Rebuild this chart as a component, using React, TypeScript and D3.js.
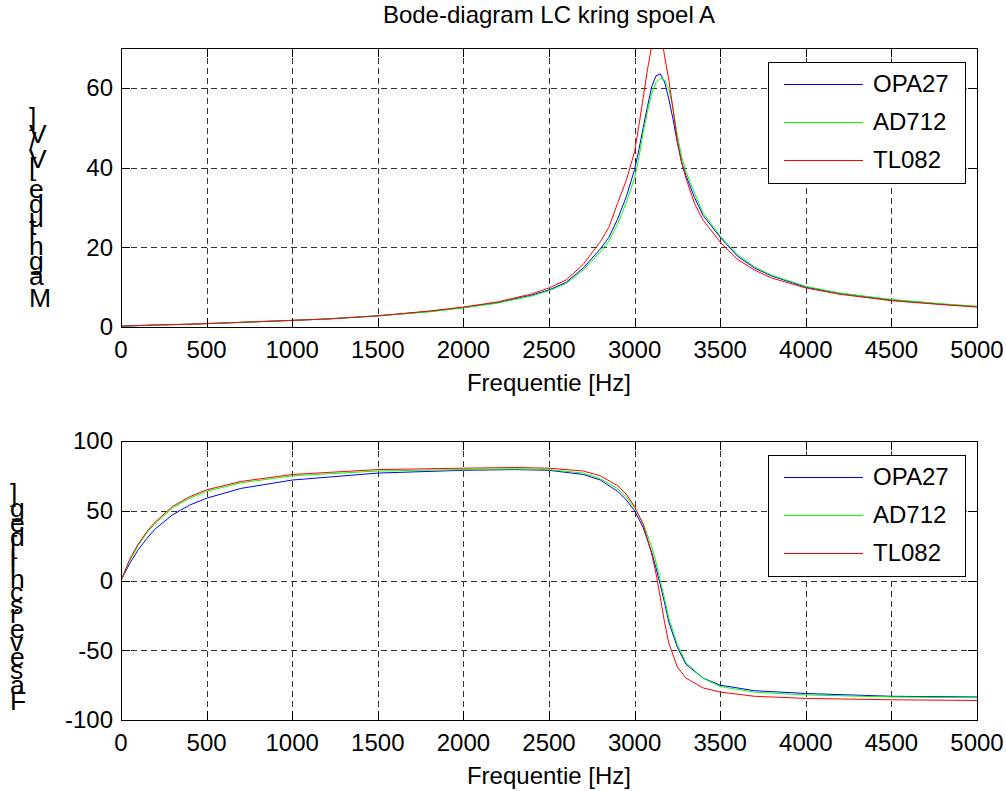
import * as d3 from 'd3';

// Amplitude (top panel)
const magFreq = [0, 200, 400, 600, 900, 1200, 1500, 1800, 2000, 2200, 2400, 2500, 2600, 2700, 2800, 2850, 2900, 2950, 3000, 3025, 3050, 3075, 3100, 3125, 3150, 3175, 3200, 3225, 3250, 3275, 3300, 3350, 3400, 3500, 3600, 3700, 3800, 4000, 4200, 4500, 4800, 5000];
const magOPA27 = [0.2, 0.5, 0.7, 1.0, 1.5, 2.0, 2.8, 3.9, 4.9, 6.1, 8.0, 9.3, 11.2, 14.8, 19.6, 22.5, 27, 32.5, 39.5, 44.5, 50, 55.3, 60.3, 63, 63.5, 61.5, 57.2, 52, 46.2, 41.2, 38, 32.5, 28, 22.5, 17.8, 14.8, 12.8, 10.0, 8.4, 6.8, 5.7, 5.1];
const magAD712 = [0.2, 0.5, 0.7, 1.0, 1.5, 2.0, 2.8, 3.8, 4.8, 6.0, 7.8, 9.1, 10.9, 14.3, 18.9, 21.6, 25.8, 31, 37.5, 42.5, 48.8, 54, 58.6, 61.3, 62.4, 62, 59.8, 54.6, 48, 42.7, 39, 33.6, 28.7, 22.8, 18.2, 15.1, 13, 10.2, 8.5, 6.9, 5.8, 5.2];
const magTL082 = [0.2, 0.5, 0.7, 1.0, 1.5, 2.0, 2.8, 4.0, 5.0, 6.3, 8.3, 9.8, 11.8, 15.7, 21.4, 25, 31, 36.6, 44, 50.5, 57.5, 64.5, 70.5, 76, 75, 68, 62, 54.5, 46.6, 41.3, 37.3, 31, 26.8, 21.3, 17.0, 14.3, 12.3, 9.8, 8.2, 6.6, 5.6, 5.0];

// Phase (bottom panel)
const phaseFreq = [0, 50, 100, 150, 200, 300, 400, 500, 700, 1000, 1500, 2000, 2300, 2500, 2700, 2800, 2900, 2950, 3000, 3050, 3100, 3125, 3150, 3175, 3200, 3250, 3300, 3400, 3500, 3700, 4000, 4500, 5000];
const phaseOPA27 = [0, 12, 22, 30, 37, 47, 54, 59, 66, 72, 77, 79, 79.5, 79, 76, 72, 64, 58, 50, 38, 20, 9, -3, -16, -30, -48, -60, -70, -75, -79, -81, -83, -83.5];
const phaseAD712 = [0, 14, 25, 34, 41, 52, 59, 64, 70, 75, 78.5, 79.5, 80, 79.5, 77, 73, 66, 60, 52, 41, 24, 13, 0, -13, -27, -46, -59, -70, -76, -80, -82, -83.5, -84];
const phaseTL082 = [0, 15, 26, 35, 42, 53, 60, 65, 71, 76, 79.5, 80.5, 81, 80.5, 78.5, 75, 68, 62, 53, 40, 19, 5, -12, -30, -45, -62, -70, -77, -80, -83, -84.5, -85.5, -86];

const seriesNames = ['OPA27', 'AD712', 'TL082'];
const seriesColors = ['#0000ff', '#00ff00', '#ff0000'];

const xTicks = [0, 500, 1000, 1500, 2000, 2500, 3000, 3500, 4000, 4500, 5000];
const magTicks = [0, 20, 40, 60];
const phaseTicks = [-100, -50, 0, 50, 100];

const W = 1006;
const H = 791;
const LEFT = 121;
const RIGHT = 977;
const FONT = "'Liberation Sans', Arial, Helvetica, sans-serif";
const TICK = 9;

type PanelProps = {
  id: string;
  top: number;
  bottom: number;
  yDomain: [number, number];
  yTicks: number[];
  freq: number[];
  values: number[][];
  ylabel: string;
  ylabelX: number;
  ylabelY: number;
};

function Panel({ id, top, bottom, yDomain, yTicks, freq, values, ylabel, ylabelX, ylabelY }: PanelProps) {
  const x = d3.scaleLinear().domain([0, 5000]).range([LEFT, RIGHT]);
  const y = d3.scaleLinear().domain(yDomain).range([bottom, top]);
  const line = d3.line<number>()
    .x((_, i) => x(freq[i]))
    .y(d => y(d));

  const px = (v: number) => Math.round(v) + 0.5;

  const lgRight = RIGHT - 12;
  const lgLeft = lgRight - 197;
  const lgTop = top + 14;
  const lgH = 121;

  return (
    <g>
      <defs>
        <clipPath id={`clip-${id}`}>
          <rect x={LEFT} y={top} width={RIGHT - LEFT} height={bottom - top} />
        </clipPath>
      </defs>
      <rect x={LEFT} y={top} width={RIGHT - LEFT} height={bottom - top} fill="#fff" />

      {/* grid */}
      <g stroke="#333" strokeDasharray="6,4" shapeRendering="crispEdges">
        {xTicks.slice(1, -1).map(t => (
          <line key={`gx${t}`} x1={px(x(t))} x2={px(x(t))} y1={top} y2={bottom} />
        ))}
        {yTicks.filter(t => t !== yDomain[0] && t !== yDomain[1]).map(t => (
          <line key={`gy${t}`} x1={LEFT} x2={RIGHT} y1={px(y(t))} y2={px(y(t))} />
        ))}
      </g>

      {/* data */}
      <g clipPath={`url(#clip-${id})`} fill="none" strokeWidth={1}>
        {values.map((vals, i) => (
          <path key={seriesNames[i]} d={line(vals) || ''} stroke={seriesColors[i]} />
        ))}
      </g>

      {/* box + ticks */}
      <g stroke="#000" shapeRendering="crispEdges">
        <rect x={px(LEFT)} y={px(top)} width={Math.round(RIGHT - LEFT)} height={Math.round(bottom - top)} fill="none" />
        {xTicks.map(t => (
          <g key={`tx${t}`}>
            <line x1={px(x(t))} x2={px(x(t))} y1={bottom} y2={bottom - TICK} />
            <line x1={px(x(t))} x2={px(x(t))} y1={top} y2={top + TICK} />
          </g>
        ))}
        {yTicks.map(t => (
          <g key={`ty${t}`}>
            <line x1={LEFT} x2={LEFT + TICK} y1={px(y(t))} y2={px(y(t))} />
            <line x1={RIGHT} x2={RIGHT - TICK} y1={px(y(t))} y2={px(y(t))} />
          </g>
        ))}
      </g>

      {/* tick labels */}
      <g fontFamily={FONT} fontSize={24} fill="#000">
        {xTicks.map(t => (
          <text key={`lx${t}`} x={x(t)} y={bottom + 31} textAnchor="middle">{t}</text>
        ))}
        {yTicks.map(t => (
          <text key={`ly${t}`} x={LEFT - 8} y={y(t)} dy="0.35em" textAnchor="end">{t}</text>
        ))}
        <text x={(LEFT + RIGHT) / 2} y={bottom + 64} textAnchor="middle">Frequentie [Hz]</text>
        <text
          x={ylabelX}
          y={ylabelY}
          transform={`rotate(-90, ${ylabelX}, ${ylabelY})`}
          rotate="90"
          fontSize={26.5}
        >
          {ylabel}
        </text>
      </g>

      {/* legend */}
      <g>
        <rect x={px(lgLeft)} y={px(lgTop)} width={197} height={lgH} fill="#fff" stroke="#000" shapeRendering="crispEdges" />
        {seriesNames.map((name, i) => {
          const cy = lgTop + 22 + i * 38;
          return (
            <g key={name}>
              <line x1={lgLeft + 16} x2={lgLeft + 95} y1={px(cy)} y2={px(cy)} stroke={seriesColors[i]} shapeRendering="crispEdges" />
              <text x={lgLeft + 105} y={cy} dy="0.35em" fontFamily={FONT} fontSize={24} fill="#000">{name}</text>
            </g>
          );
        })}
      </g>
    </g>
  );
}

export default function App() {
  return (
    <svg width={W} height={H} style={{ display: 'block', position: 'absolute', left: 0, top: 0, background: '#fff' }}>
      <rect width={W} height={H} fill="#fff" />
      <text x={549} y={23} textAnchor="middle" fontFamily={FONT} fontSize={24} fill="#000">
        Bode-diagram LC kring spoel A
      </text>
      <Panel
        id="mag"
        top={48}
        bottom={327}
        yDomain={[0, 70]}
        yTicks={magTicks}
        freq={magFreq}
        values={[magOPA27, magAD712, magTL082]}
        ylabel="Magnitude [V/V]"
        ylabelX={29}
        ylabelY={307}
      />
      <Panel
        id="phase"
        top={441}
        bottom={720}
        yDomain={[-100, 100]}
        yTicks={phaseTicks}
        freq={phaseFreq}
        values={[phaseOPA27, phaseAD712, phaseTL082]}
        ylabel="Faseverschil [deg]"
        ylabelX={10}
        ylabelY={710}
      />
    </svg>
  );
}
